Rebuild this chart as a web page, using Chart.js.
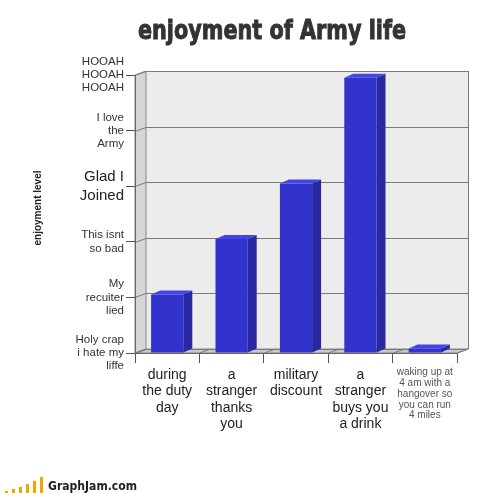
<!DOCTYPE html>
<html><head><meta charset="utf-8">
<script src="https://cdn.jsdelivr.net/npm/chart.js@4"></script>
<style>html,body{margin:0;padding:0;background:#fff}#wrap{width:500px;height:493px;position:relative}</style>
</head><body><div id="wrap"><canvas id="c"></canvas></div>
<script>
// ---- data ----
const categories = [
  ["during", "the duty", "day"],
  ["a", "stranger", "thanks", "you"],
  ["military", "discount"],
  ["a", "stranger", "buys you", "a drink"],
  ["waking up at", "4 am with a", "hangover so", "you can run", "4 miles"]
];
const enjoyment = [1.05, 2.05, 3.05, 4.95, 0.08];
const levelLabels = [
  ["Holy crap", "i hate my", "liffe"],
  ["My", "recuiter", "lied"],
  ["This isnt", "so bad"],
  ["Glad I", "Joined"],
  ["I love", "the", "Army"],
  ["HOOAH", "HOOAH", "HOOAH"]
];
const titleText = "enjoyment of Army life";
const yTitleText = "enjoyment level";
const footerText = "GraphJam.com";

// ---- styling ----
const FONT = "'Liberation Sans', Arial, sans-serif";
const DX = 11, DY = -4;     // wall depth
const BDX = 9, BDY = -4;    // bar depth

function poly(ctx, pts, fill, stroke) {
  ctx.beginPath();
  ctx.moveTo(pts[0][0], pts[0][1]);
  for (let i = 1; i < pts.length; i++) ctx.lineTo(pts[i][0], pts[i][1]);
  ctx.closePath();
  if (fill) { ctx.fillStyle = fill; ctx.fill(); }
  if (stroke) { ctx.strokeStyle = stroke; ctx.lineWidth = 1; ctx.stroke(); }
}
function line(ctx, pts, color) {
  ctx.beginPath();
  ctx.moveTo(pts[0][0], pts[0][1]);
  for (let i = 1; i < pts.length; i++) ctx.lineTo(pts[i][0], pts[i][1]);
  ctx.strokeStyle = color; ctx.lineWidth = 1; ctx.stroke();
}

const threeD = {
  id: 'threeD',
  beforeDraw(chart) {
    const ctx = chart.ctx, a = chart.chartArea, y = chart.scales.y;
    if (!a) return;
    ctx.save();
    ctx.fillStyle = '#fff';
    ctx.fillRect(0, 0, chart.width, chart.height);
    poly(ctx, [[a.left + DX, a.top + DY], [a.right + DX, a.top + DY], [a.right + DX, a.bottom + DY], [a.left + DX, a.bottom + DY]], '#ececec');
    poly(ctx, [[a.left, a.top], [a.left + DX, a.top + DY], [a.left + DX, a.bottom + DY], [a.left, a.bottom]], '#d6d6d6', '#8a8a8a');
    poly(ctx, [[a.left, a.bottom], [a.left + DX, a.bottom + DY], [a.right + DX, a.bottom + DY], [a.right, a.bottom]], '#c9c9c9', '#8a8a8a');
    y.ticks.forEach(t => {
      const yy = Math.round(y.getPixelForValue(t.value)) + 0.5;
      line(ctx, [[a.left, yy], [a.left + DX, yy + DY], [a.right + DX, yy + DY]], '#7a7a7a');
    });
    line(ctx, [[a.right + DX + 0.5, a.top + DY], [a.right + DX + 0.5, a.bottom + DY]], '#7a7a7a');
    const n = categories.length;
    for (let i = 0; i <= n; i++) {
      const xx = Math.round(a.left + (a.right - a.left) * i / n) + 0.5;
      line(ctx, [[xx, a.bottom], [xx + DX, a.bottom + DY]], '#7a7a7a');
    }
    ctx.restore();
  },
  afterDatasetsDraw(chart) {
    const ctx = chart.ctx;
    const meta = chart.getDatasetMeta(0);
    ctx.save();
    meta.data.forEach(bar => {
      const p = bar.getProps(['x', 'y', 'base', 'width'], true);
      const x1 = p.x - p.width / 2, x2 = p.x + p.width / 2;
      poly(ctx, [[x2, p.y], [x2 + BDX, p.y + BDY], [x2 + BDX, p.base + BDY], [x2, p.base]], '#2828a0');
      poly(ctx, [[x1, p.y], [x1 + BDX, p.y + BDY], [x2 + BDX, p.y + BDY], [x2, p.y]], '#4545e6');
    });
    ctx.restore();
  },
  afterDraw(chart) {
    const ctx = chart.ctx;
    ctx.save();
    ctx.font = "bold 26px 'DejaVu Sans', sans-serif";
    ctx.fillStyle = '#333';
    ctx.strokeStyle = '#333';
    ctx.lineWidth = 1.0;
    ctx.lineJoin = 'miter';
    const w = ctx.measureText(titleText).width;
    ctx.translate(272, 39);
    ctx.scale(268 / w, 1);
    ctx.textAlign = 'center';
    ctx.textBaseline = 'alphabetic';
    ctx.fillText(titleText, 0, 0);
    ctx.strokeText(titleText, 0, 0);
    ctx.restore();
    ctx.save();
    ctx.font = "bold 10px " + FONT;
    ctx.fillStyle = '#222';
    ctx.translate(38, 208);
    ctx.rotate(-Math.PI / 2);
    ctx.textAlign = 'center';
    ctx.textBaseline = 'middle';
    ctx.fillText(yTitleText, 0, 0);
    ctx.restore();
    ctx.save();
    ctx.fillStyle = '#f5a300';
    const bars = [[5, 2], [12, 4], [19, 6], [26, 9], [33, 12], [40, 16]];
    bars.forEach(b => ctx.fillRect(b[0], 493 - b[1], 3, b[1]));
    ctx.font = "bold 12px 'DejaVu Sans', Verdana, sans-serif";
    ctx.fillStyle = '#222';
    const fw = ctx.measureText(footerText).width;
    ctx.translate(48, 490);
    ctx.scale(89 / fw, 1);
    ctx.textAlign = 'left';
    ctx.textBaseline = 'alphabetic';
    ctx.fillText(footerText, 0, 0);
    ctx.restore();
  }
};

new Chart(document.getElementById('c'), {
  type: 'bar',
  data: {
    labels: categories,
    datasets: [{
      data: enjoyment,
      backgroundColor: '#3232cd',
      borderWidth: 0,
      barPercentage: 0.5,
      categoryPercentage: 1.0
    }]
  },
  options: {
    responsive: true,
    maintainAspectRatio: false,
    animation: false,
    devicePixelRatio: 1,
    layout: { padding: { top: 75, right: 43, bottom: 0, left: 0 } },
    plugins: { legend: { display: false }, title: { display: false }, tooltip: { enabled: false } },
    scales: {
      x: {
        grid: { offset: true, drawOnChartArea: false, drawTicks: true, tickLength: 10, color: '#555' },
        border: { display: true, color: '#666' },
        ticks: {
          autoSkip: false, maxRotation: 0, minRotation: 0, padding: 4,
          color: (c) => c.index === 4 ? '#555' : '#222',
          font: (c) => c.index === 4 ? { family: FONT, size: 10, lineHeight: 1.08 } : { family: FONT, size: 14, lineHeight: 1.17 }
        },
        afterFit: (s) => { s.height = 140; }
      },
      y: {
        min: 0, max: 5,
        grid: { drawOnChartArea: false, drawTicks: true, tickLength: 9, color: '#555' },
        border: { display: true, color: '#666' },
        ticks: {
          stepSize: 1, padding: 2,
          callback: (v) => levelLabels[v],
          color: (c) => c.tick && c.tick.value === 3 ? '#222' : '#333',
          font: (c) => (c.tick && c.tick.value === 3) ? { family: FONT, size: 15, lineHeight: 1.25 } : { family: FONT, size: 11.5, lineHeight: 1.15 }
        },
        afterFit: (s) => { s.width = 135; }
      }
    }
  },
  plugins: [threeD]
});
</script>
</body></html>
